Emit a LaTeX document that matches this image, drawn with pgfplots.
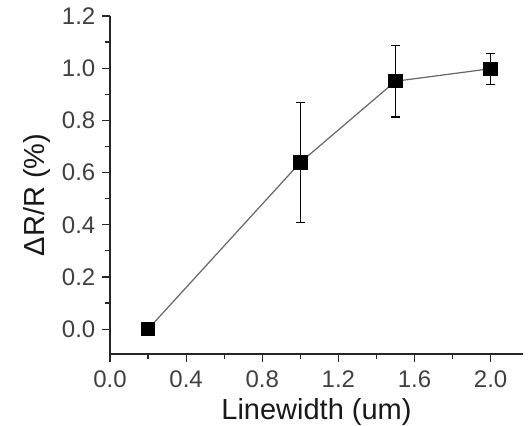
\documentclass[border=0pt]{standalone}
\usepackage{pgfplots}
\pgfplotsset{compat=1.18}
\usepackage{fontspec}
\setmainfont{Liberation Sans}

\begin{document}
\begin{tikzpicture}
  \begin{axis}[
      scale only axis,
      width=206.5pt, height=169pt,
      xmin=0, xmax=2.17,
      ymin=-0.095, ymax=1.2,
      axis lines*=left,
      axis line style={black!85, line width=0.7pt, -},
      xtick={0,0.4,...,2.0},
      ytick={0,0.2,...,1.2},
      minor x tick num=1,
      minor y tick num=1,
      tick align=outside,
      major tick length=3.8pt,
      minor tick length=2.5pt,
      tick style={black!85, line width=0.6pt},
      /pgf/number format/fixed,
      /pgf/number format/fixed zerofill,
      /pgf/number format/precision=1,
      /pgf/number format/assume math mode=true,
      ticklabel style={font=\fontsize{12}{14}\selectfont, text=black!75},
      x tick label style={yshift=-1pt},
      xtick pos=bottom, ytick pos=left,
      xlabel={Linewidth (um)},
      ylabel={ΔR/R (\%)},
      label style={font=\fontsize{14.5}{17}\selectfont, text=black!90},
      xlabel style={yshift=1.5pt},
      ylabel style={yshift=-1pt, xshift=-5pt},
      clip=false,
    ]
    \addplot[black!60, line width=0.6pt, mark=square*, mark size=3.3pt,
      mark options={black, solid},
      error bars/.cd, y dir=both, y explicit,
      error bar style={black, line width=0.6pt},
      error mark options={black, line width=0.6pt, mark size=2.3pt, rotate=90}]
      coordinates {
        (0.2,0.0) +- (0,0)
        (1.0,0.639) +- (0,0.231)
        (1.5,0.950) +- (0,0.137)
        (2.0,0.998) +- (0,0.059)
      };
  \end{axis}
  \pgfresetboundingbox
  \path ([shift={(-55pt,-36pt)}]current axis.south west)
    rectangle ([shift={(209.5pt,177pt)}]current axis.south west);
\end{tikzpicture}
\end{document}
